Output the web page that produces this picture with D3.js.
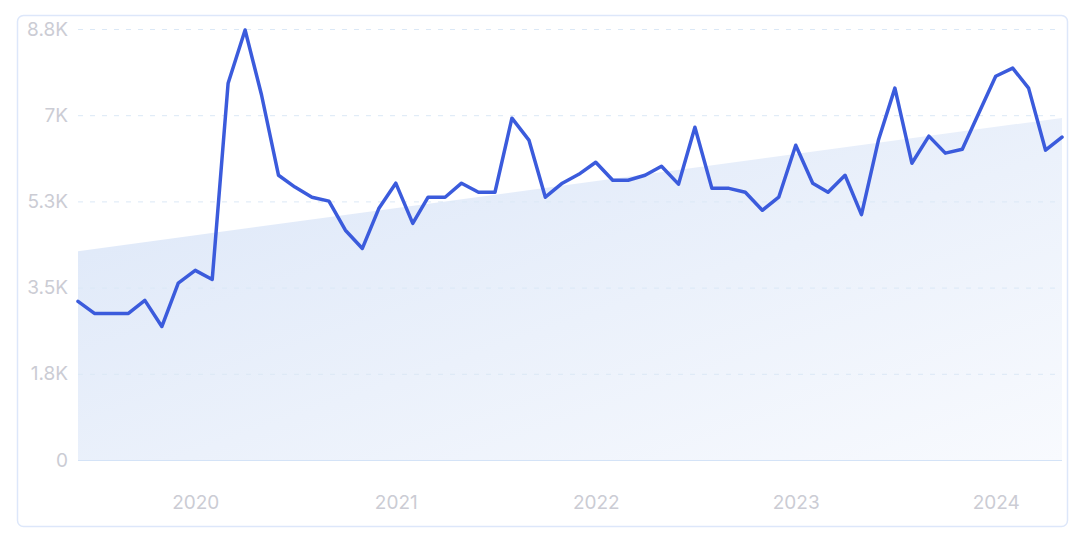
<!DOCTYPE html>
<html>
<head>
<meta charset="utf-8">
<script src="https://cdn.jsdelivr.net/npm/d3@7"></script>
<style>
  html, body { margin: 0; padding: 0; background: #fff; }
  svg text { font-family: Inter, "Noto Sans", sans-serif; }
</style>
</head>
<body>
<div id="chart"></div>
<script>
const WIDTH = 1080
const HEIGHT = 539

// monthly values, June 2019 -> May 2024
const startMonth = "2019-06"
const values = [
  3220, 2975, 2975, 2975, 3240, 2710, 3590, 3850, 3665, 7650,
  8730, 7410, 5780, 5540, 5335, 5255, 4665, 4295, 5105, 5620,
  4805, 5335, 5335, 5620, 5435, 5435, 6940, 6495, 5335, 5620,
  5800, 6045, 5680, 5680, 5780, 5965, 5600, 6755, 5515, 5515,
  5435, 5070, 5335, 6390, 5620, 5435, 5780, 4980, 6495, 7550,
  6025, 6575, 6230, 6310, 7040, 7790, 7955, 7550, 6290, 6555
]
// trend band: value at first and last month
const trend = [4240, 6945]
const yTicks = [0, 1750, 3500, 5250, 7000, 8750]
const yTickLabels = ["0", "1.8K", "3.5K", "5.3K", "7K", "8.8K"]
const xTickYears = [2020, 2021, 2022, 2023, 2024]

const parse = d3.timeParse("%Y-%m")
const t0 = parse(startMonth)
const data = values.map((v, i) => ({ date: d3.timeMonth.offset(t0, i), value: v }))

const margin = { left: 78, right: 18, top: 29, bottom: 79 }

const x = d3.scaleTime()
  .domain(d3.extent(data, d => d.date))
  .range([margin.left, WIDTH - margin.right])

const y = d3.scaleLinear()
  .domain([0, 8750])
  .range([HEIGHT - margin.bottom, margin.top])

const svg = d3.select("#chart")
  .append("svg")
  .attr("width", WIDTH)
  .attr("height", HEIGHT)

// card border
svg.append("rect")
  .attr("x", 17.5).attr("y", 15.5)
  .attr("width", 1050).attr("height", 511)
  .attr("rx", 6)
  .attr("fill", "#fff")
  .attr("stroke", "#dde7fa")
  .attr("stroke-width", 1.5)

const defs = svg.append("defs")
const grad = defs.append("linearGradient")
  .attr("id", "trendFill")
  .attr("x1", "0%").attr("y1", "0%")
  .attr("x2", "100%").attr("y2", "100%")
grad.append("stop").attr("offset", "0%").attr("stop-color", "#dbe6f8")
grad.append("stop").attr("offset", "55%").attr("stop-color", "#ebf1fb")
grad.append("stop").attr("offset", "100%").attr("stop-color", "#f8fafe")

// trend area
const first = data[0].date, last = data[data.length - 1].date
const trendData = [{ date: first, value: trend[0] }, { date: last, value: trend[1] }]
svg.append("path")
  .datum(trendData)
  .attr("fill", "url(#trendFill)")
  .attr("d", d3.area().x(d => x(d.date)).y0(y(0)).y1(d => y(d.value)))

// grid lines
const yAxis = d3.axisLeft(y)
  .tickValues(yTicks)
  .tickFormat((d, i) => yTickLabels[i])
  .tickSize(-(WIDTH - margin.left - margin.right))
  .tickPadding(10)

const gy = svg.append("g")
  .attr("transform", `translate(${margin.left},0)`)
  .call(yAxis)
gy.select(".domain").remove()
gy.selectAll(".tick line")
  .attr("stroke", d => d === 0 ? "#d4e3f7" : "#dbe8f6")
  .attr("stroke-width", d => d === 0 ? 1.2 : 1)
  .attr("stroke-dasharray", d => d === 0 ? null : "5,7")
gy.selectAll(".tick text")
  .attr("fill", "#cbccd4")
  .attr("font-size", 19)

const xAxis = d3.axisBottom(x)
  .tickValues(xTickYears.map(yr => new Date(yr, 0, 1)))
  .tickFormat(d3.timeFormat("%Y"))
  .tickSize(0)
  .tickPadding(36)

const gx = svg.append("g")
  .attr("transform", `translate(0,${y(0)})`)
  .call(xAxis)
gx.select(".domain").remove()
gx.selectAll(".tick text")
  .attr("fill", "#cbccd4")
  .attr("font-size", 19)

// the line
svg.append("path")
  .datum(data)
  .attr("fill", "none")
  .attr("stroke", "#3b5bdc")
  .attr("stroke-width", 3.5)
  .attr("stroke-linejoin", "round")
  .attr("stroke-linecap", "round")
  .attr("d", d3.line().x(d => x(d.date)).y(d => y(d.value)))
</script>
</body>
</html>
